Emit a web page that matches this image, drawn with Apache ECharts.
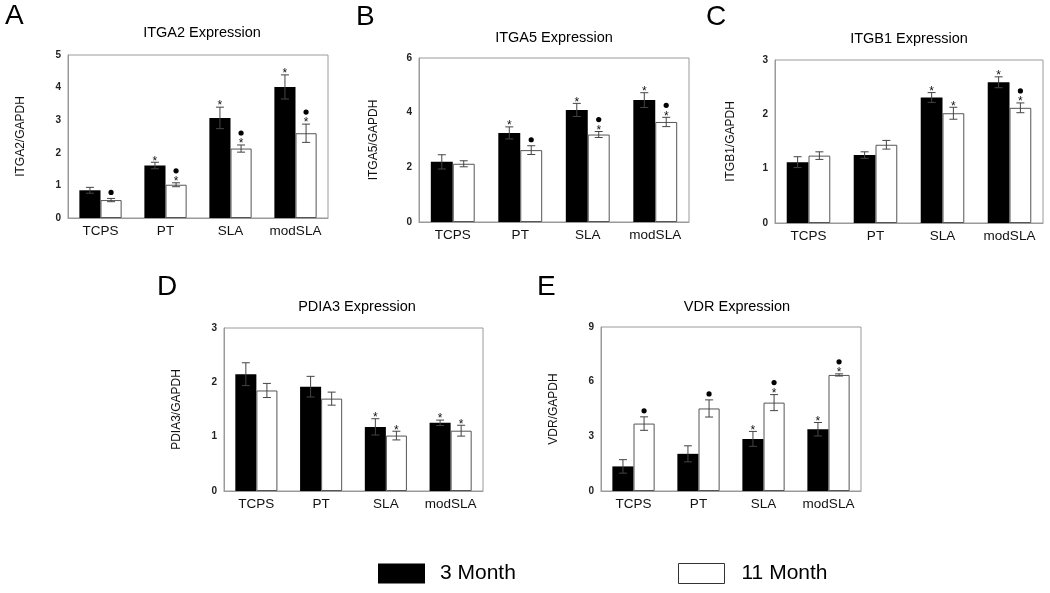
<!DOCTYPE html>
<html><head><meta charset="utf-8">
<script src="https://cdn.jsdelivr.net/npm/echarts@6/dist/echarts.min.js"></script>
<style>html,body{margin:0;padding:0;background:#fff}#c{width:1050px;height:593px}</style>
</head><body><div id="c"></div>
<script>
const categories = ['TCPS', 'PT', 'SLA', 'modSLA'];
const seriesNames = ['3 Month', '11 Month'];

// Panel A: ITGA2
const itga2_3m = [0.85, 1.61, 3.07, 4.02];
const itga2_3m_err = [0.09, 0.10, 0.33, 0.37];
const itga2_11m = [0.55, 1.02, 2.13, 2.60];
const itga2_11m_err = [0.05, 0.06, 0.11, 0.28];
const itga2_3m_sig = ['', 's', 's', 's'];
const itga2_11m_sig = ['d', 'ds', 'ds', 'ds'];
const itga2_ticks = [0, 1, 2, 3, 4, 5];

// Panel B: ITGA5
const itga5_3m = [2.20, 3.26, 4.10, 4.46];
const itga5_3m_err = [0.26, 0.22, 0.24, 0.27];
const itga5_11m = [2.13, 2.63, 3.20, 3.66];
const itga5_11m_err = [0.11, 0.16, 0.11, 0.17];
const itga5_3m_sig = ['', 's', 's', 's'];
const itga5_11m_sig = ['', 'd', 'ds', 'ds'];
const itga5_ticks = [0, 2, 4, 6];

// Panel C: ITGB1
const itgb1_3m = [1.12, 1.25, 2.31, 2.59];
const itgb1_3m_err = [0.10, 0.06, 0.09, 0.10];
const itgb1_11m = [1.24, 1.44, 2.02, 2.12];
const itgb1_11m_err = [0.07, 0.08, 0.11, 0.09];
const itgb1_3m_sig = ['', '', 's', 's'];
const itgb1_11m_sig = ['', '', 's', 'ds'];
const itgb1_ticks = [0, 1, 2, 3];

// Panel D: PDIA3
const pdia3_3m = [2.15, 1.92, 1.18, 1.255];
const pdia3_3m_err = [0.21, 0.19, 0.15, 0.05];
const pdia3_11m = [1.85, 1.70, 1.02, 1.11];
const pdia3_11m_err = [0.13, 0.12, 0.08, 0.10];
const pdia3_3m_sig = ['', '', 's', 's'];
const pdia3_11m_sig = ['', '', 's', 's'];
const pdia3_ticks = [0, 1, 2, 3];

// Panel E: VDR
const vdr_3m = [1.35, 2.04, 2.86, 3.39];
const vdr_3m_err = [0.37, 0.44, 0.41, 0.37];
const vdr_11m = [3.70, 4.53, 4.85, 6.37];
const vdr_11m_err = [0.37, 0.47, 0.44, 0.06];
const vdr_3m_sig = ['', '', 's', 's'];
const vdr_11m_sig = ['d', 'd', 'ds', 'ds'];
const vdr_ticks = [0, 3, 6, 9];

const FONT = '"Liberation Sans", Arial, sans-serif';

const panels = [
  {letter: 'A', lx: 5, ly: 17, title: 'ITGA2 Expression', tx: 202, ty: 33, yname: 'ITGA2/GAPDH', ngap: 41,
   grid: {left: 68, top: 55, width: 260, height: 163}, ticks: itga2_ticks,
   v: [itga2_3m, itga2_11m], e: [itga2_3m_err, itga2_11m_err], s: [itga2_3m_sig, itga2_11m_sig]},
  {letter: 'B', lx: 356, ly: 18, title: 'ITGA5 Expression', tx: 554, ty: 38, yname: 'ITGA5/GAPDH', ngap: 39,
   grid: {left: 419, top: 58, width: 270, height: 164}, ticks: itga5_ticks,
   v: [itga5_3m, itga5_11m], e: [itga5_3m_err, itga5_11m_err], s: [itga5_3m_sig, itga5_11m_sig]},
  {letter: 'C', lx: 706, ly: 18, title: 'ITGB1 Expression', tx: 909, ty: 39, yname: 'ITGB1/GAPDH', ngap: 38,
   grid: {left: 775, top: 60, width: 268, height: 163}, ticks: itgb1_ticks,
   v: [itgb1_3m, itgb1_11m], e: [itgb1_3m_err, itgb1_11m_err], s: [itgb1_3m_sig, itgb1_11m_sig]},
  {letter: 'D', lx: 157, ly: 288, title: 'PDIA3 Expression', tx: 357, ty: 307, yname: 'PDIA3/GAPDH', ngap: 41,
   grid: {left: 224, top: 328, width: 259, height: 163}, ticks: pdia3_ticks,
   v: [pdia3_3m, pdia3_11m], e: [pdia3_3m_err, pdia3_11m_err], s: [pdia3_3m_sig, pdia3_11m_sig]},
  {letter: 'E', lx: 537, ly: 288, title: 'VDR Expression', tx: 737, ty: 307, yname: 'VDR/GAPDH', ngap: 41,
   grid: {left: 601, top: 327, width: 260, height: 164}, ticks: vdr_ticks,
   v: [vdr_3m, vdr_11m], e: [vdr_3m_err, vdr_11m_err], s: [vdr_3m_sig, vdr_11m_sig]}
];

const CAT_GAP = 0.35;
const grids = [], xAxes = [], yAxes = [], series = [], graphics = [];

panels.forEach((p, pi) => {
  grids.push(Object.assign({show: true, borderColor: '#9a9a9a', borderWidth: 1, backgroundColor: 'transparent'}, p.grid));
  xAxes.push({type: 'category', gridIndex: pi, data: categories,
    axisLine: {show: true, lineStyle: {color: '#9a9a9a'}}, axisTick: {show: false},
    axisLabel: {interval: 0, hideOverlap: false, fontFamily: FONT, fontSize: 13.5, color: '#111', margin: 6}});
  const t = p.ticks;
  yAxes.push({type: 'value', gridIndex: pi, min: t[0], max: t[t.length - 1], interval: t[1] - t[0],
    name: p.yname, nameLocation: 'middle', nameGap: p.ngap, nameRotate: 90,
    nameTextStyle: {fontFamily: FONT, fontSize: 12, color: '#111'},
    axisLine: {show: true, lineStyle: {color: '#9a9a9a'}}, axisTick: {show: false}, splitLine: {show: false},
    axisLabel: {fontFamily: FONT, fontSize: 10, fontWeight: 'bold', color: '#222', margin: 7}});

  [0, 1].forEach(g => {
    series.push({type: 'bar', name: seriesNames[g], xAxisIndex: pi, yAxisIndex: pi,
      data: p.v[g], barGap: '0%', barCategoryGap: (CAT_GAP * 100) + '%',
      itemStyle: g === 0 ? {color: '#000', borderColor: '#000', borderWidth: 0}
                         : {color: '#fff', borderColor: '#555', borderWidth: 1},
      silent: true, z: 2});
  });
  [0, 1].forEach(g => {
    const vals = p.v[g], errs = p.e[g], sigs = p.s[g];
    series.push({type: 'custom', xAxisIndex: pi, yAxisIndex: pi, silent: true, z: 5,
      data: vals.map((v, i) => [i, v, errs[i]]),
      encode: {x: 0, y: 1},
      renderItem: function (params, api) {
        const i = api.value(0), v = api.value(1), er = api.value(2);
        const catW = api.size([1, 0])[0];
        const barW = catW * (1 - CAT_GAP) / 2;
        const c = api.coord([i, v]);
        const x = c[0] + (g === 0 ? -barW / 2 : barW / 2);
        const yt = api.coord([i, v + er])[1];
        const yb = api.coord([i, v - er])[1];
        const cap = 4;
        const st = {stroke: '#444', lineWidth: 1};
        const ch = [
          {type: 'line', shape: {x1: x, y1: yt, x2: x, y2: yb}, style: st},
          {type: 'line', shape: {x1: x - cap, y1: yt, x2: x + cap, y2: yt}, style: st},
          {type: 'line', shape: {x1: x - cap, y1: yb, x2: x + cap, y2: yb}, style: st}
        ];
        const sg = sigs[i];
        if (sg === 's' || sg === 'ds') {
          ch.push({type: 'text', style: {text: '*', x: x, y: yt - 1, textAlign: 'center', textVerticalAlign: 'middle',
            font: '12px ' + FONT, fill: '#111'}});
        }
        if (sg === 'd') {
          ch.push({type: 'circle', shape: {cx: x, cy: yt - 6, r: 2.6}, style: {fill: '#000'}});
        }
        if (sg === 'ds') {
          ch.push({type: 'circle', shape: {cx: x, cy: yt - 12, r: 2.6}, style: {fill: '#000'}});
        }
        return {type: 'group', children: ch};
      }});
  });

  graphics.push({type: 'text', left: p.lx, top: p.ly - 15, style: {text: p.letter, font: '28px ' + FONT, fill: '#000'}});
  graphics.push({type: 'text', x: p.tx, y: p.ty, style: {text: p.title, font: '14.5px ' + FONT, fill: '#000',
    textAlign: 'center', textVerticalAlign: 'middle'}});
});

const chart = echarts.init(document.getElementById('c'), null, {renderer: 'canvas'});
chart.setOption({
  animation: false,
  backgroundColor: '#fff',
  grid: grids, xAxis: xAxes, yAxis: yAxes, series: series, graphic: graphics,
  legend: [
    {data: [seriesNames[0]], left: 373, top: 558, itemWidth: 47, itemHeight: 20, icon: 'rect',
      itemStyle: {color: '#000', borderColor: '#000', borderWidth: 0},
      textStyle: {fontFamily: FONT, fontSize: 21, color: '#000', padding: [0, 0, 0, 10]}, selectedMode: false},
    {data: [seriesNames[1]], left: 673, top: 558, itemWidth: 46, itemHeight: 20, icon: 'rect',
      itemStyle: {color: '#fff', borderColor: '#333', borderWidth: 1},
      textStyle: {fontFamily: FONT, fontSize: 21, color: '#000', padding: [0, 0, 0, 12]}, selectedMode: false}
  ]
});
</script></body></html>
